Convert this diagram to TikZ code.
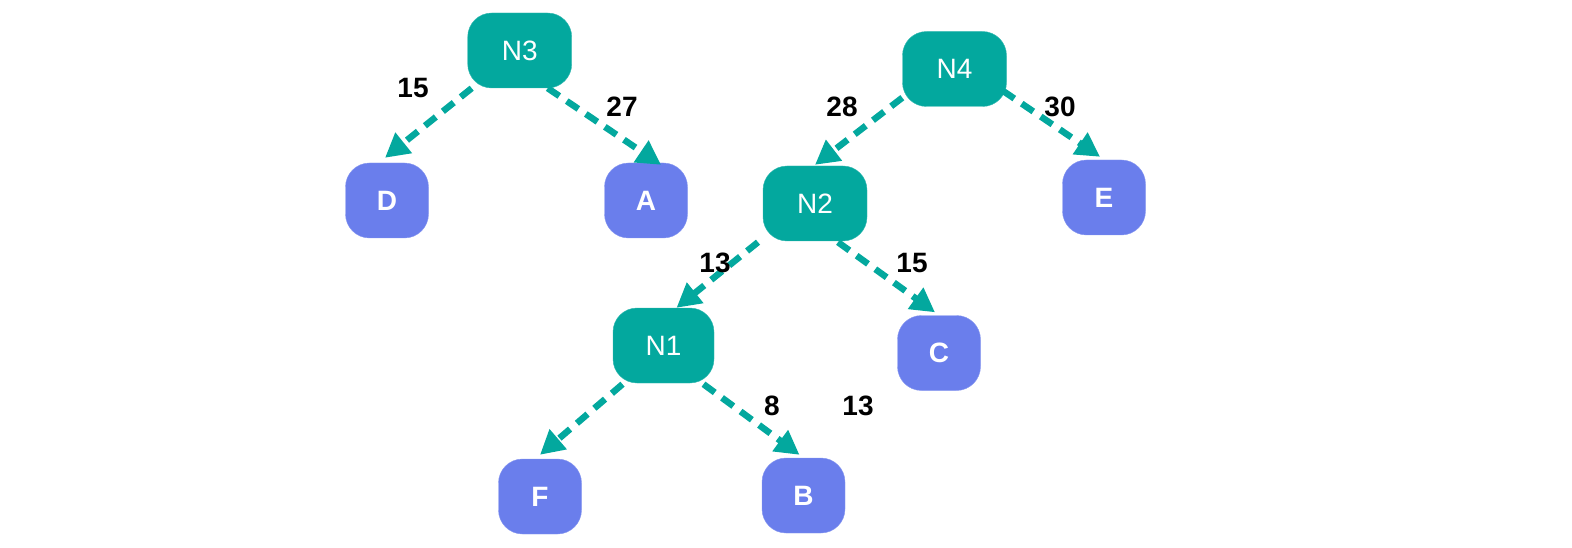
\documentclass[tikz,border=0pt]{standalone}
\usepackage{fontspec}
\setmainfont{Liberation Sans}
\usetikzlibrary{calc,arrows.meta}
\definecolor{teal1}{RGB}{3,168,158}
\definecolor{blue1}{RGB}{106,126,236}
\tikzset{
  inner/.style={draw=teal1!80!white,fill=teal1,rounded corners=24pt,minimum width=104pt,minimum height=75pt,text=white,font=\fontsize{28}{32}\selectfont,inner sep=0pt},
  leaf/.style={draw=blue1!80!white,fill=blue1,rounded corners=24pt,minimum width=83pt,minimum height=75pt,text=white,font=\fontsize{28}{32}\selectfont\bfseries,inner sep=0pt},
  edge/.style={draw=teal1,line width=6.5pt,dash pattern=on 14pt off 9pt,-{Triangle[length=24pt,width=25pt]}},
  wlabel/.style={font=\fontsize{28}{32}\selectfont\bfseries,text=black,inner sep=0pt}
}
\begin{document}
\begin{tikzpicture}[x=1pt,y=-1pt]
\useasboundingbox (0,0) rectangle (1572,548);
\node[inner] (n3) at (519.7,50.5) {N3};
\node[inner] (n4) at (954.5,69) {N4};
\node[inner] (n2) at (815,203.5) {N2};
\node[inner,minimum width=101pt] (n1) at (663.5,345.5) {N1};
\node[leaf] (d) at (387,200.5) {D};
\node[leaf] (a) at (646,200.5) {A};
\node[leaf] (e) at (1104,197.5) {E};
\node[leaf] (c) at (939,353) {C};
\node[leaf] (f) at (540,496.5) {F};
\node[leaf] (b) at (803.5,495.5) {B};
\draw[edge] ($(n3.south)+(-48,0)$) -- ($(d.north)+(-2,-5)$);
\draw[edge] ($(n3.south)+(28,0)$) -- ($(a.north)+(15,2)$);
\draw[edge] ($(n4.south west)+(0,-9)$) -- ($(n2.north)+(0,-1)$);
\draw[edge] ($(n4.south east)+(-4,-16)$) -- ($(e.north)+(-4,-3)$);
\draw[edge] ($(n2.south)+(-57,1)$) -- ($(n1.north)+(13,0)$);
\draw[edge] ($(n2.south)+(23,1)$) -- ($(c.north)+(-4,-3)$);
\draw[edge] ($(n1.south)+(-41,1)$) -- ($(f.north)+(0,-4)$);
\draw[edge] ($(n1.south)+(40,1)$) -- ($(b.north)+(-4,-3)$);
\node[wlabel] (l1) at (413,88) {15};
\node[wlabel] (l2) at (622,107) {27};
\node[wlabel] (l3) at (842,107) {28};
\node[wlabel] (l4) at (1060,107) {30};
\node[wlabel] (l5) at (715,263) {13};
\node[wlabel] (l6) at (912,263) {15};
\node[wlabel] (l7) at (772,406) {8};
\node[wlabel] (l8) at (858,406) {13};
\end{tikzpicture}
\end{document}
